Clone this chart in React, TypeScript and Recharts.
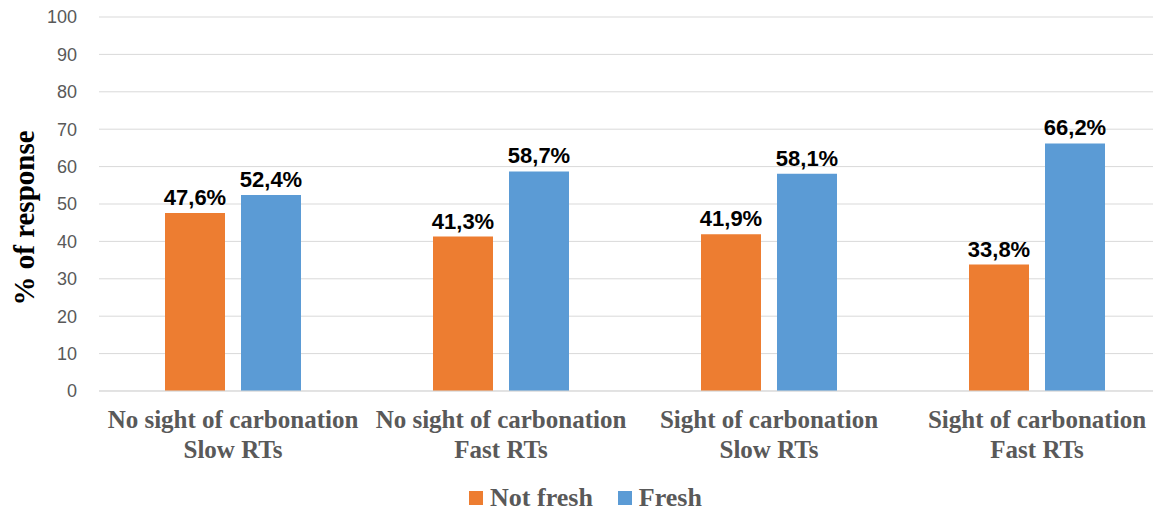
import { BarChart, Bar, XAxis, YAxis, CartesianGrid, Legend, LabelList } from 'recharts';

const categories = [
  'No sight of carbonation\nSlow RTs',
  'No sight of carbonation\nFast RTs',
  'Sight of carbonation\nSlow RTs',
  'Sight of carbonation\nFast RTs',
];
const notFresh = [47.6, 41.3, 41.9, 33.8];
const fresh = [52.4, 58.7, 58.1, 66.2];
const yTicks = [0, 10, 20, 30, 40, 50, 60, 70, 80, 90, 100];

const data = categories.map((c, i) => ({ name: c, notFresh: notFresh[i], fresh: fresh[i] }));

const ORANGE = '#ED7D31';
const BLUE = '#5B9BD5';
const SERIF = '"Liberation Serif", "Times New Roman", serif';
const SANS = '"Liberation Sans", Arial, sans-serif';

const fmt = (v: any) => `${Number(v).toFixed(1).replace('.', ',')}%`;

function CatTick({ x, y, payload }: any) {
  const lines = String(payload.value).split('\n');
  return (
    <text x={x} y={y} textAnchor="middle" fill="#595959" fontFamily={SERIF} fontWeight="bold" fontSize={25}>
      {lines.map((l, i) => (
        <tspan key={i} x={x} y={y + 29 + i * 30}>{l}</tspan>
      ))}
    </text>
  );
}

function YTitle({ viewBox }: any) {
  const cy = viewBox.y + viewBox.height / 2 + 14;
  const cx = 24;
  return (
    <text
      x={cx}
      y={cy}
      transform={`rotate(-90 ${cx} ${cy})`}
      textAnchor="middle"
      dominantBaseline="central"
      fill="#000"
      fontFamily={SERIF}
      fontWeight="bold"
      fontSize={29}
    >
      % of response
    </text>
  );
}

function LegendBox() {
  const items = [
    { label: 'Not fresh', color: ORANGE },
    { label: 'Fresh', color: BLUE },
  ];
  return (
    <div style={{ display: 'flex', justifyContent: 'center', alignItems: 'center', height: 30, lineHeight: '30px', gap: 25, fontFamily: SERIF, fontWeight: 'bold', fontSize: 26, color: '#595959' }}>
      {items.map(it => (
        <div key={it.label} style={{ display: 'flex', alignItems: 'center', gap: 7 }}>
          <span style={{ width: 14, height: 14, background: it.color, display: 'inline-block' }} />
          <span>{it.label}</span>
        </div>
      ))}
    </div>
  );
}

export default function App() {
  return (
    <div style={{ margin: -8, width: 1161, height: 517, overflow: 'hidden', background: '#fff', position: 'relative' }}>
      <BarChart width={1171} height={517} data={data} margin={{ top: 17, right: 0, left: 0, bottom: 4 }} barSize={60} barGap={16}>
        <CartesianGrid stroke="#d9d9d9" vertical={false} />
        <XAxis
          dataKey="name"
          tick={<CatTick />}
          tickLine={false}
          axisLine={{ stroke: '#d9d9d9' }}
          height={92}
          interval={0}
        />
        <YAxis
          domain={[0, 100]}
          ticks={yTicks}
          width={99}
          tickLine={false}
          axisLine={false}
          tickMargin={16}
          tick={{ fill: '#595959', fontSize: 18, fontFamily: SANS }}
          label={{ content: <YTitle /> }}
        />
        <Legend verticalAlign="bottom" height={30} content={<LegendBox />} />
        <Bar dataKey="notFresh" name="Not fresh" fill={ORANGE} isAnimationActive={false}>
          <LabelList dataKey="notFresh" position="top" offset={8} formatter={fmt} style={{ fill: '#000', fontFamily: SANS, fontWeight: 'bold', fontSize: 22 }} />
        </Bar>
        <Bar dataKey="fresh" name="Fresh" fill={BLUE} isAnimationActive={false}>
          <LabelList dataKey="fresh" position="top" offset={8} formatter={fmt} style={{ fill: '#000', fontFamily: SANS, fontWeight: 'bold', fontSize: 22 }} />
        </Bar>
      </BarChart>
    </div>
  );
}
